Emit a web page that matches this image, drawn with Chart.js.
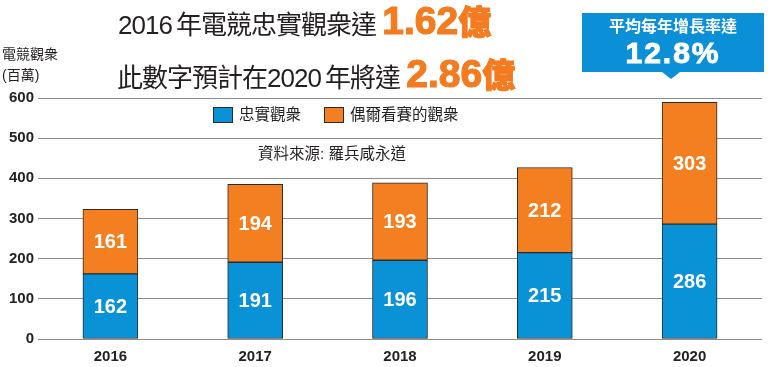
<!DOCTYPE html>
<html>
<head>
<meta charset="utf-8">
<script src="https://cdn.jsdelivr.net/npm/chart.js@4/dist/chart.umd.min.js"></script>
<style>
  html, body { margin: 0; padding: 0; background: #fff; }
  body { width: 768px; height: 367px; position: relative; overflow: hidden;
         font-family: "Liberation Sans", "Noto Sans CJK TC", sans-serif; color: #231f20; }
  #wrap { position: absolute; left: 0; top: 0; width: 768px; height: 367px; }
  .abs { position: absolute; white-space: nowrap; line-height: 1; }
  .title { font-size: 26px; letter-spacing: -1px; }
  .big { color: #f47b20; font-weight: bold; font-size: 39px; -webkit-text-stroke: 1.2px #f47b20; letter-spacing: 0; }
  .yi { color: #f47b20; font-weight: 900; font-size: 33px; -webkit-text-stroke: 1px #f47b20; }
  .callout { position: absolute; left: 582px; top: 13px; width: 182px; height: 59px; background: #0b8fd6; }
  .callout:after { content: ""; position: absolute; left: 80px; top: 59px; border-left: 9px solid transparent;
                   border-right: 9px solid transparent; border-top: 7px solid #0b8fd6; }
  .legbox { position: absolute; width: 18px; height: 14px; border: 1px solid #2a2a2a; }
</style>
</head>
<body>
<div id="wrap"><canvas id="chart"></canvas></div>

<div class="abs title" style="left:118px; top:1px;">2016&#8201;年電競忠實觀衆達 <span class="big">1.62</span><span class="yi">億</span></div>
<div class="abs title" style="left:117px; top:54px;">此數字預計在2020&#8201;年將達 <span class="big">2.86</span><span class="yi">億</span></div>

<div class="abs" style="left:2px; top:47px; font-size:14px;">電競觀衆</div>
<div class="abs" style="left:2px; top:68px; font-size:14px;">(百萬)</div>

<div class="callout"></div>
<div class="abs" style="left:582px; width:182px; text-align:center; top:19px; font-size:16px; font-weight:bold; color:#fff;">平均每年增長率達</div>
<div class="abs" style="left:582px; width:182px; text-align:center; top:38px; font-size:30px; font-weight:bold; color:#fff; letter-spacing:2px; -webkit-text-stroke:1px #fff;">12.8%</div>

<div class="legbox" style="left:213px; top:107px; background:#0a92d7;"></div>
<div class="abs" style="left:239px; top:107px; font-size:15.5px;">忠實觀衆</div>
<div class="legbox" style="left:324px; top:107px; background:#f47f20;"></div>
<div class="abs" style="left:350px; top:107px; font-size:15.5px;">偶爾看賽的觀衆</div>
<div class="abs" style="left:258px; top:146px; font-size:15.5px;">資料來源:&nbsp;羅兵咸永道</div>

<script>
const years = ['2016', '2017', '2018', '2019', '2020'];
const loyalViewers = [162, 191, 196, 215, 286];
const occasionalViewers = [161, 194, 193, 212, 303];
const yTicks = [0, 100, 200, 300, 400, 500, 600];

// white numbers in the middle of each bar segment
const barLabels = {
  id: 'barLabels',
  afterDatasetsDraw(chart) {
    const ctx = chart.ctx;
    ctx.save();
    ctx.fillStyle = '#fff';
    ctx.font = 'bold 20px "Liberation Sans", Arial, sans-serif';
    ctx.textAlign = 'center';
    ctx.textBaseline = 'middle';
    chart.data.datasets.forEach((ds, i) => {
      chart.getDatasetMeta(i).data.forEach((bar, j) => {
        ctx.fillText(ds.data[j], bar.x, (bar.y + bar.base) / 2 + 1);
      });
    });
    ctx.restore();
  }
};

const ctx = document.getElementById('chart').getContext('2d');

new Chart(ctx, {
  type: 'bar',
  data: {
    labels: years,
    datasets: [{
      label: '忠實觀衆',
      data: loyalViewers,
      backgroundColor: '#0a92d7',
      borderColor: '#2a2a2a',
      borderWidth: 1,
      borderSkipped: false,
      barThickness: 55
    }, {
      label: '偶爾看賽的觀衆',
      data: occasionalViewers,
      backgroundColor: '#f47f20',
      borderColor: '#2a2a2a',
      borderWidth: 1,
      borderSkipped: false,
      barThickness: 55
    }]
  },
  options: {
    responsive: true,
    maintainAspectRatio: false,
    animation: false,
    layout: { padding: { top: 98, right: 6, left: 0, bottom: 0 } },
    plugins: { legend: { display: false }, tooltip: { enabled: false } },
    scales: {
      x: {
        stacked: true,
        grid: { display: false },
        border: { display: false },
        ticks: { color: '#222', font: { family: 'Liberation Sans', weight: 'bold', size: 15 }, padding: 1 },
        afterFit: s => { s.height = 28; }
      },
      y: {
        stacked: true,
        min: 0,
        max: 600,
        afterBuildTicks: s => { s.ticks = yTicks.map(v => ({ value: v })); },
        grid: { color: '#8c8c8c', lineWidth: 1, drawTicks: false },
        border: { display: false },
        ticks: { color: '#222', font: { family: 'Liberation Sans', weight: 'bold', size: 15 }, padding: 4 },
        afterFit: s => { s.width = 38; }
      }
    }
  },
  plugins: [barLabels]
});
</script>
</body>
</html>
